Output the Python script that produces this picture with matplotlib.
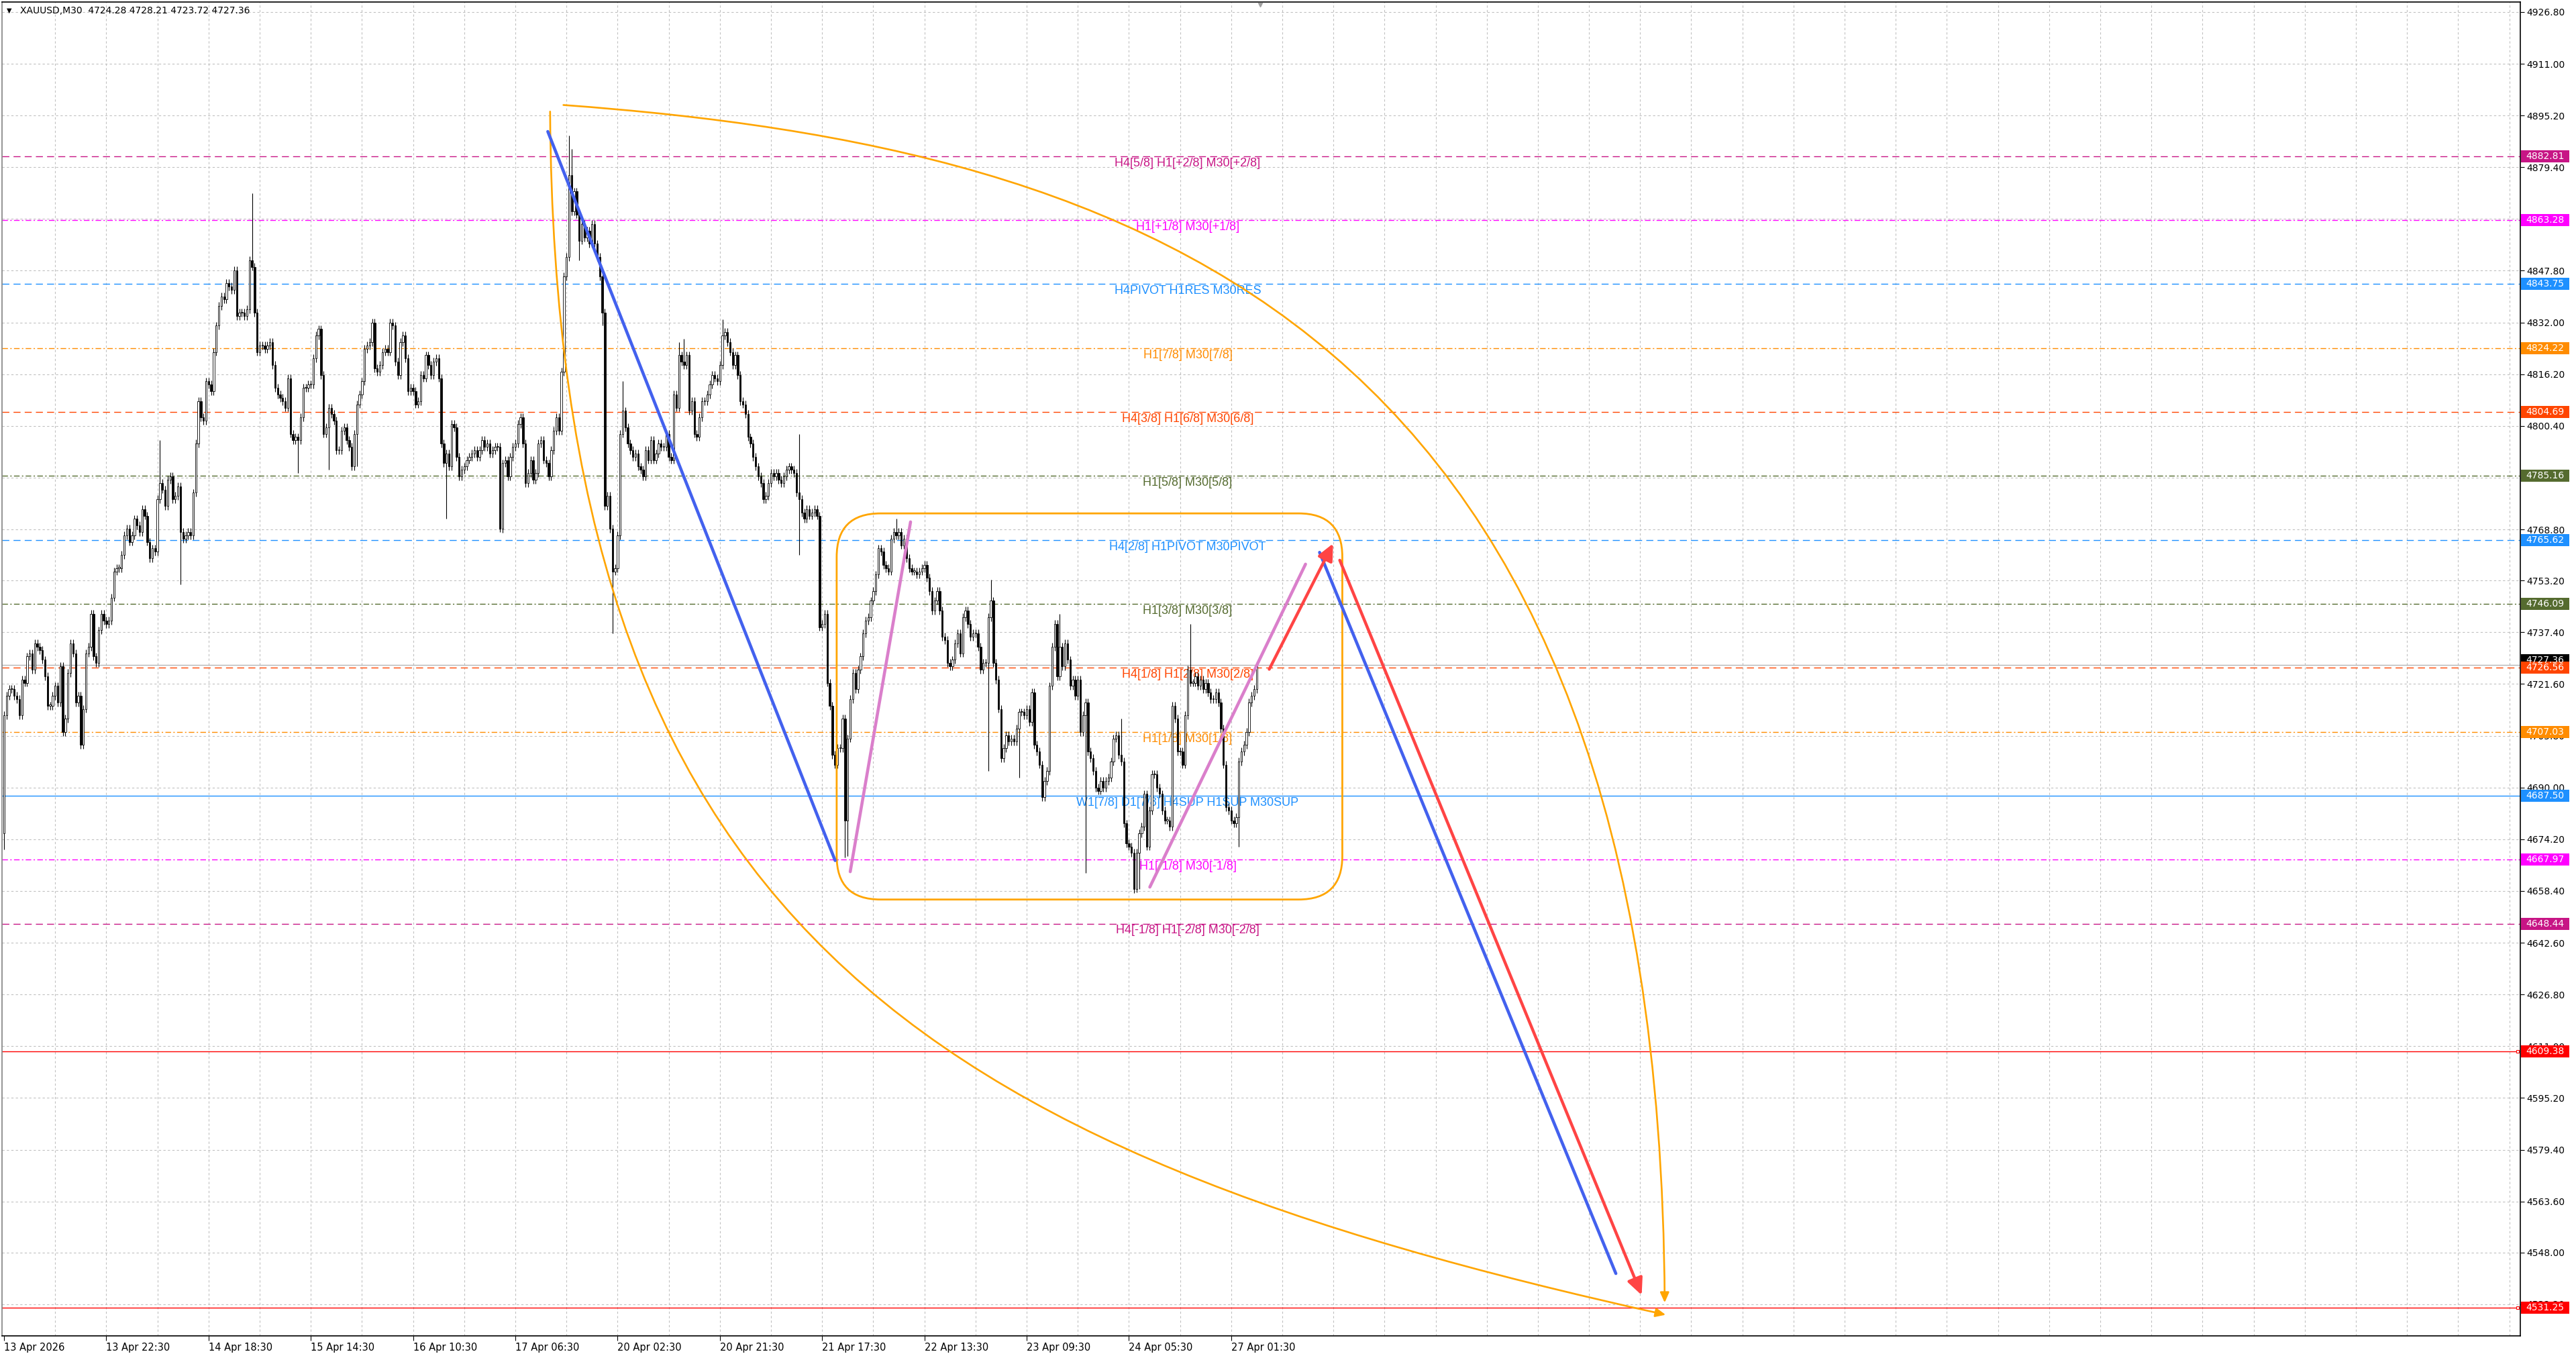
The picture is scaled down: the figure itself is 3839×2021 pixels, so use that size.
import matplotlib
matplotlib.use('Agg')
import matplotlib.pyplot as plt
import matplotlib.transforms as mtransforms
from matplotlib.path import Path
from matplotlib.patches import FancyArrowPatch, FancyBboxPatch, Rectangle
import numpy as np

# XAUUSD M30 closes
closes = [
    4712, 4718, 4720, 4720, 4718, 4717, 4712, 4723, 4722, 4730, 4731, 4726, 4734, 4733, 4732, 4729, 4724, 4715, 4715, 4718,
    4721, 4716, 4727, 4707, 4711, 4725, 4734, 4731, 4716, 4718, 4703, 4714, 4731, 4733, 4743, 4730, 4728, 4738, 4743, 4741,
    4740, 4741, 4748, 4756, 4757, 4757, 4761, 4767, 4769, 4765, 4767, 4772, 4770, 4768, 4775, 4773, 4765, 4760, 4763, 4762,
    4778, 4783, 4781, 4776, 4784, 4785, 4778, 4779, 4782, 4768, 4766, 4767, 4768, 4767, 4780, 4795, 4808, 4803, 4802, 4814,
    4813, 4811, 4823, 4831, 4837, 4840, 4839, 4844, 4843, 4842, 4848, 4834, 4835, 4835, 4834, 4836, 4851, 4849, 4835, 4823,
    4825, 4825, 4824, 4825, 4826, 4819, 4812, 4810, 4809, 4808, 4806, 4815, 4798, 4796, 4797, 4796, 4803, 4812, 4812, 4813,
    4813, 4821, 4828, 4830, 4816, 4798, 4800, 4806, 4804, 4802, 4793, 4793, 4799, 4800, 4796, 4794, 4788, 4798, 4807, 4810,
    4814, 4824, 4825, 4826, 4832, 4818, 4817, 4819, 4823, 4824, 4823, 4832, 4831, 4820, 4816, 4826, 4828, 4821, 4811, 4812,
    4811, 4807, 4808, 4816, 4815, 4822, 4819, 4816, 4820, 4821, 4815, 4795, 4789, 4792, 4788, 4801, 4800, 4791, 4785, 4787,
    4788, 4790, 4791, 4792, 4793, 4791, 4793, 4796, 4794, 4795, 4792, 4793, 4794, 4794, 4769, 4789, 4790, 4785, 4791, 4794,
    4795, 4801, 4803, 4795, 4783, 4786, 4790, 4784, 4786, 4795, 4796, 4790, 4789, 4785, 4793, 4799, 4803, 4799, 4817, 4846,
    4852, 4877, 4866, 4872, 4865, 4857, 4862, 4858, 4860, 4856, 4862, 4856, 4852, 4846, 4835,
    4776, 4779, 4769, 4756, 4757, 4767, 4798, 4805, 4800, 4795, 4793, 4791, 4792, 4788, 4787, 4785, 4793, 4790, 4796, 4790,
    4792, 4795, 4794, 4794, 4798,
    4791, 4790, 4810, 4806, 4822, 4820, 4819, 4822, 4805, 4808, 4798, 4797, 4803, 4808, 4808, 4810, 4813, 4816, 4815, 4814,
    4819, 4828, 4829, 4826, 4823, 4819, 4822, 4816, 4808, 4807, 4804, 4797, 4795, 4791, 4788, 4785, 4783, 4778, 4779, 4783,
    4786, 4785, 4786, 4784, 4783, 4785, 4787, 4788, 4787, 4786, 4780, 4778, 4774, 4772, 4775, 4773, 4774, 4775, 4773, 4739,
    4740, 4743, 4722, 4715,
    4700, 4697, 4702, 4702, 4711, 4680, 4705, 4717, 4725, 4720, 4726,
    4730, 4737, 4741, 4742, 4747, 4750, 4755, 4763, 4762, 4758,
    4757, 4756, 4766, 4768, 4767, 4768, 4764, 4766, 4760, 4757, 4756,
    4756, 4755, 4756, 4757, 4758, 4754, 4750, 4744, 4747, 4750, 4744,
    4736, 4735, 4728, 4727, 4729, 4734, 4737, 4731, 4742, 4744, 4740,
    4736, 4737, 4737, 4733, 4726, 4728, 4728, 4742, 4747, 4728,
    4723, 4714, 4699, 4702, 4706, 4704, 4705, 4704, 4708, 4713, 4713,
    4712, 4714, 4710, 4719, 4703, 4701, 4697, 4687, 4692, 4695,
    4721, 4733, 4740, 4724, 4733, 4727, 4734, 4729, 4721, 4723, 4718,
    4723, 4707, 4712, 4716, 4701, 4699, 4695, 4690, 4689, 4692,
    4690, 4692, 4693, 4698, 4705, 4706, 4700, 4698, 4679, 4673, 4672,
    4670, 4659, 4670, 4676, 4678, 4688, 4672, 4683, 4694, 4694, 4690,
    4688, 4683, 4680, 4680, 4678, 4715, 4711, 4701, 4701, 4697,
    4712, 4726, 4722, 4722, 4724, 4721, 4723, 4720, 4722, 4719, 4717,
    4717, 4719, 4716, 4708, 4697, 4684, 4683, 4680, 4679, 4681,
    4698, 4701, 4703, 4707, 4716, 4718, 4720, 4727.36,
]
first_open = 4676.0

# long wicks seen on the chart (bar index -> price)
spike_high = {61: 4796, 97: 4871.5, 221: 4889, 222: 4885, 242: 4814, 264: 4826, 266: 4827,
              281: 4833, 311: 4798, 349: 4772, 386: 4753.5, 413: 4743, 437: 4711, 464: 4740}
spike_low = {0: 4671, 69: 4752, 115: 4786, 127: 4787, 138: 4788, 173: 4772, 194: 4768,
             225: 4851, 234: 4831, 238: 4737, 311: 4761, 329: 4668.6, 330: 4669, 385: 4695,
             397: 4693, 423: 4664, 443: 4658, 444: 4659, 483: 4672}

tick_prices = [4926.80, 4911.00, 4895.20, 4879.40, 4863.60, 4847.80, 4832.00, 4816.20, 4800.40,
               4784.60, 4768.80, 4753.20, 4737.40, 4721.60, 4705.80, 4690.00, 4674.20, 4658.40,
               4642.60, 4626.80, 4611.00, 4595.20, 4579.40, 4563.60, 4548.00, 4532.20]

time_bars = [0, 40, 80, 120, 160, 200, 240, 280, 320, 360, 400, 440, 480]
time_labels = ['13 Apr 2026', '13 Apr 22:30', '14 Apr 18:30', '15 Apr 14:30', '16 Apr 10:30',
               '17 Apr 06:30', '20 Apr 02:30', '20 Apr 21:30', '21 Apr 17:30', '22 Apr 13:30',
               '23 Apr 09:30', '24 Apr 05:30', '27 Apr 01:30']

# Murrey levels
level_prices = [4882.81, 4863.28, 4843.75, 4824.22, 4804.69, 4785.16, 4765.62,
                4746.09, 4726.56, 4707.03, 4687.50, 4667.97, 4648.44]
level_names = ['H4[5/8] H1[+2/8] M30[+2/8]', 'H1[+1/8] M30[+1/8]', 'H4PIVOT H1RES M30RES',
               'H1[7/8] M30[7/8]', 'H4[3/8] H1[6/8] M30[6/8]', 'H1[5/8] M30[5/8]',
               'H4[2/8] H1PIVOT M30PIVOT', 'H1[3/8] M30[3/8]', 'H4[1/8] H1[2/8] M30[2/8]',
               'H1[1/8] M30[1/8]', 'W1[7/8] D1[7/8] H4SUP H1SUP M30SUP', 'H1[-1/8] M30[-1/8]',
               'H4[-1/8] H1[-2/8] M30[-2/8]']
level_colors = ['#C71585', '#FF00FF', '#1E90FF', '#FF8C00', '#FF4500', '#556B2F', '#1E90FF',
                '#556B2F', '#FF4500', '#FF8C00', '#1E90FF', '#FF00FF', '#C71585']
level_kinds = ['dash', 'dashdot', 'dash', 'dashdot', 'dash', 'dashdot', 'dash',
               'dashdot', 'dash', 'dashdot', 'solid', 'dashdot', 'dash']

red_levels = [4609.38, 4531.25]
last_price = 4727.36

# hand drawn objects (bar index, price)
blue_down = [(212.7, 4890.3), (325.1, 4667.7)]
pink_up_1 = [(331.0, 4664.3), (354.6, 4771.1)]
pink_up_2 = [(448.2, 4659.6), (509.1, 4758.2)]
blue_fcst = [(514.6, 4761.8), (630.5, 4541.6)]
red_up = [(494.9, 4726.1), (519.9, 4764.5)]
red_down = [(522.5, 4759.4), (640.6, 4535.0)]
box_x = [325.7, 523.5]
box_y = [4655.8, 4773.7]
arc_lower = [(213.6, 4896.4), (215.6, 4649.6), (358.2, 4579.4), (650.0, 4529.0)]
arc_upper = [(218.8, 4898.4), (448.2, 4885.3), (647.4, 4830.2), (649.6, 4532.7)]

dash_styles = {'dash': (0, (7.5, 4.5)), 'dashdot': (0, (6, 2.5, 1.5, 2.5)), 'solid': '-'}

W, H = 3839, 2021
fig = plt.figure(figsize=(W / 100, H / 100), dpi=100)
fig.patch.set_facecolor('white')
ax = fig.add_axes([3 / W, 30 / H, 3753 / W, 1988 / H])
ax.set_xlim(-0.8, 984.3)
ax.set_ylim(4522.56, 4929.85)

# grid
for p in tick_prices:
    ax.axhline(p, color='#C0C0C0', lw=0.8, ls=(0, (3, 3)), zorder=0)
for b in range(20, 981, 20):
    ax.axvline(b, color='#C0C0C0', lw=0.8, ls=(0, (3, 3)), zorder=0)

# levels
for p, name, c, k in zip(level_prices, level_names, level_colors, level_kinds):
    ax.axhline(p, color=c, lw=1.0, ls=dash_styles[k], zorder=1)
    ax.annotate(name, (463, p), xytext=(0, -7.5), textcoords='offset points',
                ha='center', va='center', fontsize=13, family='Liberation Sans',
                color=c, zorder=1.5)
for p in red_levels:
    ax.axhline(p, color='#FF0000', lw=1.0, zorder=1)
ax.axhline(last_price, color='#B4B4B4', lw=1.0, zorder=1)

# candles
n = len(closes)
x = np.arange(n)
opens = [first_open] + closes[:-1]
highs, lows = [], []
for i in range(n):
    highs.append(spike_high.get(i, max(opens[i], closes[i]) + 1.2))
    lows.append(spike_low.get(i, min(opens[i], closes[i]) - 1.2))
ax.vlines(x, lows, highs, color='black', lw=0.8, zorder=2)
body_lo = np.minimum(opens, closes)
body_h = np.maximum(np.abs(np.array(closes) - np.array(opens)), 0.25)
face = ['white' if c >= o else 'black' for o, c in zip(opens, closes)]
ax.bar(x, body_h, bottom=body_lo, width=0.62, color=face, edgecolor='black', lw=0.6, zorder=3)

# drawings
def seg(pts, color):
    ax.plot([pts[0][0], pts[1][0]], [pts[0][1], pts[1][1]], color=color, lw=3.3,
            solid_capstyle='round', zorder=6)

seg(blue_down, '#4361EE')
seg(blue_fcst, '#4361EE')
seg(pink_up_1, '#DA7FCB')
seg(pink_up_2, '#DA7FCB')
for pts in (red_up, red_down):
    ax.add_patch(FancyArrowPatch(pts[0], pts[1], arrowstyle='-|>,head_length=1.5,head_width=0.7',
                                 mutation_scale=10, color='#FF4444', lw=3.2, shrinkA=0, shrinkB=0,
                                 capstyle='round', zorder=7))

codes = [Path.MOVETO, Path.CURVE4, Path.CURVE4, Path.CURVE4]
for arc in (arc_lower, arc_upper):
    ax.add_patch(FancyArrowPatch(path=Path(arc, codes), arrowstyle='-|>,head_length=0.9,head_width=0.4',
                                 mutation_scale=10, color='#FFA500', lw=1.9, zorder=5))

ax.add_patch(FancyBboxPatch((box_x[0], box_y[0]), box_x[1] - box_x[0], box_y[1] - box_y[0],
                            boxstyle='round,pad=0,rounding_size=17.1', mutation_aspect=13.3 / 17.1,
                            fc='none', ec='#FFA500', lw=2.0, zorder=5))

# axes styling
for s in ax.spines.values():
    s.set_color('black')
    s.set_linewidth(1.2)
ax.spines['left'].set_color('#808080')
ax.yaxis.tick_right()
ax.set_yticks(tick_prices)
ax.set_yticklabels([f'{p:.2f}' for p in tick_prices])
ax.tick_params(axis='y', direction='out', length=4, pad=3, labelsize=10, colors='black')
ax.set_xticks(time_bars)
ax.set_xticklabels(time_labels, ha='left')
ax.tick_params(axis='x', direction='out', length=5, pad=2, labelsize=10.5)

# price tags on the right scale
trans = mtransforms.blended_transform_factory(ax.transAxes, ax.transData)
tags = [(last_price + 1.6, 'black', last_price)]
for p, c in zip(level_prices, level_colors):
    if p != 4726.56:
        tags.append((p, c, p))
tags += [(red_levels[0], '#FF0000', red_levels[0]), (red_levels[1], '#FF0000', red_levels[1]),
         (4726.56, '#FF4500', 4726.56)]
for p, c, shown in tags:
    ax.add_patch(Rectangle((1.0003, p - 1.85), 72 / 3753, 3.7, transform=trans, fc=c, ec='none',
                           clip_on=False, zorder=8))
    ax.text(1.0003 + 36 / 3753, p, f'{shown:.2f}', transform=trans, ha='center', va='center',
            fontsize=10, color='white', clip_on=False, zorder=9)
for p in red_levels:
    ax.plot([983.3], [p], marker='s', ms=3.5, mfc='white', mec='#FF0000', mew=0.8,
            clip_on=False, zorder=8)

# header
ax.text(0.0018, 0.9935, '\u25bc', transform=ax.transAxes, fontsize=7, va='center', ha='left')
ax.text(0.0072, 0.9935, 'XAUUSD,M30  4724.28 4728.21 4723.72 4727.36', transform=ax.transAxes,
        fontsize=10, va='center', ha='left')
ax.plot([491.3], [4929.0], marker='v', ms=5, color='#A0A0A0', clip_on=False, zorder=9)

fig.savefig('out.png', dpi=100, facecolor='white')
